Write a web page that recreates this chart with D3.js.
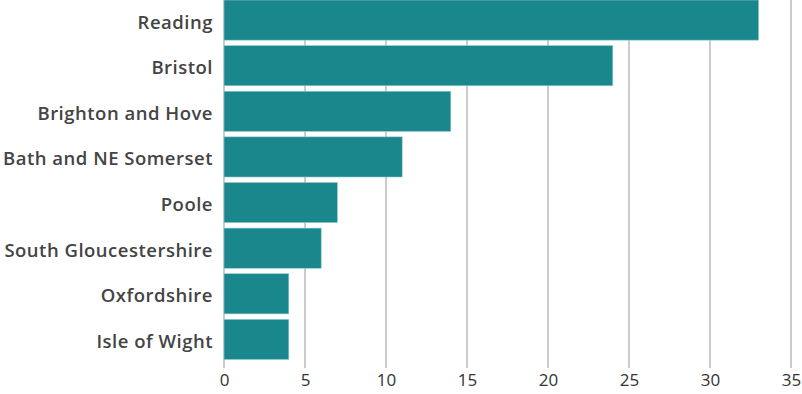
<!DOCTYPE html>
<html>
<head>
<meta charset="utf-8">
<script src="https://cdn.jsdelivr.net/npm/d3@7"></script>
<style>
  body { margin: 0; background: #fff; }
  .label { font-family: "Open Sans", Lato, sans-serif; font-weight: 600; font-size: 18.5px; letter-spacing: 0.5px; fill: #444; }
  .tick text { font-family: "Open Sans", Lato, sans-serif; font-weight: 400; font-size: 17px; fill: #333; }
</style>
</head>
<body>
<div id="chart"></div>
<script>
// data
var areas = ["Reading", "Bristol", "Brighton and Hove", "Bath and NE Somerset", "Poole",
             "South Gloucestershire", "Oxfordshire", "Isle of Wight"];
var counts = [33, 24, 14, 11, 7, 6, 4, 4];
var ticks = [0, 5, 10, 15, 20, 25, 30, 35];

var width = 802, height = 394;
var left = 224, right = 791;
var barColor = "#1a878d";

var svg = d3.select("#chart").append("svg")
    .attr("width", width)
    .attr("height", height);

var x = d3.scaleLinear().domain([0, 35]).range([left, right]);
var y = d3.scaleBand().domain(areas).range([0, 359.5]).paddingInner(0.12).paddingOuter(0);

// gridlines
svg.append("g")
    .selectAll("line")
    .data(ticks)
    .enter().append("line")
    .attr("x1", function (d) { return x(d); })
    .attr("x2", function (d) { return x(d); })
    .attr("y1", 0)
    .attr("y2", 368)
    .style("stroke", "#999")
    .style("stroke-width", 1);

// bars
svg.append("g")
    .selectAll("rect")
    .data(areas)
    .enter().append("rect")
    .attr("x", x(0))
    .attr("y", function (d) { return y(d); })
    .attr("width", function (d, i) { return x(counts[i]) - x(0); })
    .attr("height", y.bandwidth())
    .style("fill", barColor)
    .style("stroke", "#8fcdd0")
    .style("stroke-width", 0.6);

// category labels
svg.append("g")
    .selectAll("text")
    .data(areas)
    .enter().append("text")
    .attr("class", "label")
    .attr("x", 213)
    .attr("y", function (d) { return y(d) + y.bandwidth() / 2; })
    .attr("dy", "0.46em")
    .attr("text-anchor", "end")
    .text(function (d) { return d; });

// x axis
var axis = svg.append("g")
    .attr("transform", "translate(0,368)")
    .call(d3.axisBottom(x).tickValues(ticks).tickSize(0).tickPadding(6));
axis.select(".domain").remove();
</script>
</body>
</html>
